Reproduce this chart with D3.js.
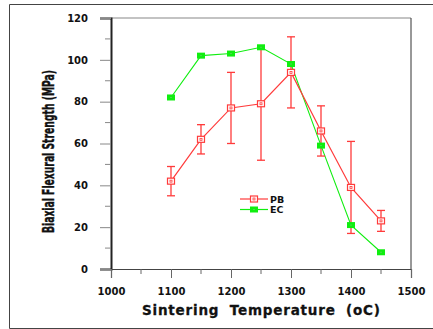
<!DOCTYPE html>
<html>
<head>
<meta charset="utf-8">
<script src="https://cdn.jsdelivr.net/npm/d3@7"></script>
<style>
  body { margin: 0; background: #fff; }
  svg { display: block; }
</style>
</head>
<body>
<div id="chart"></div>
<script>
// temperatures (oC)
const temps = [1100, 1150, 1200, 1250, 1300, 1350, 1400, 1450];
// PB series with error bars
const pbMean = [42, 62, 77, 79, 94, 66, 39, 23];
const pbLow  = [35, 55, 60, 52, 77, 54, 17, 18];
const pbHigh = [49, 69, 94, 106, 111, 78, 61, 28];
// EC series
const ecMean = [82, 102, 103, 106, 98, 59, 21, 8];

const xTicks = [1000, 1100, 1200, 1300, 1400, 1500];
const yTicks = [0, 20, 40, 60, 80, 100, 120];

const width = 433, height = 329;
const margin = { top: 18, right: 22, bottom: 60, left: 111 };

const svg = d3.select('#chart').append('svg')
  .attr('width', width)
  .attr('height', height);

// outer frame
svg.append('path')
  .attr('d', `M${width},4.5 H9.5 V328.5 H${width}`)
  .attr('fill', 'none')
  .attr('stroke', '#444')
  .attr('stroke-width', 1);

const x = d3.scaleLinear().domain([1000, 1500]).range([margin.left, width - margin.right]);
const y = d3.scaleLinear().domain([0, 120]).range([height - margin.bottom, margin.top]);

const fontWide = '"DejaVu Sans", Verdana, sans-serif';
const fontTitle = '"DejaVu Sans Condensed", "Liberation Sans Narrow", Arial, sans-serif';

// plot box: top gray, right dark
svg.append('line')
  .attr('x1', x(1000)).attr('x2', x(1500))
  .attr('y1', y(120)).attr('y2', y(120))
  .attr('stroke', '#888').attr('stroke-width', 1.2);
svg.append('line')
  .attr('x1', x(1500)).attr('x2', x(1500))
  .attr('y1', y(120)).attr('y2', y(0))
  .attr('stroke', '#333').attr('stroke-width', 1);

// y axis
const yAxis = svg.append('g')
  .attr('transform', `translate(${x(1000)},0)`)
  .call(d3.axisLeft(y).tickValues(yTicks).tickSize(11).tickPadding(12).tickFormat(d3.format('d')));
yAxis.select('.domain').attr('stroke', '#222').attr('stroke-width', 2);
yAxis.selectAll('.tick line').attr('stroke', '#888');
yAxis.selectAll('.tick text')
  .attr('font-family', fontWide).attr('font-weight', 'bold').attr('font-size', 10).attr('fill', '#111');
// y minor ticks
svg.append('g').selectAll('line')
  .data(d3.range(10, 120, 20))
  .join('line')
  .attr('x1', x(1000) - 6).attr('x2', x(1000))
  .attr('y1', d => y(d)).attr('y2', d => y(d))
  .attr('stroke', '#888');

// x axis
const xAxis = svg.append('g')
  .attr('transform', `translate(0,${y(0)})`)
  .call(d3.axisBottom(x).tickValues(xTicks).tickSize(9).tickPadding(10).tickFormat(d3.format('d')));
xAxis.select('.domain').attr('stroke', '#444').attr('stroke-width', 1.2);
xAxis.selectAll('.tick line').attr('stroke', '#666');
xAxis.selectAll('.tick text')
  .attr('font-family', fontWide).attr('font-weight', 'bold').attr('font-size', 10).attr('fill', '#111');
// x minor ticks
svg.append('g').selectAll('line')
  .data(d3.range(1050, 1500, 100))
  .join('line')
  .attr('x1', d => x(d)).attr('x2', d => x(d))
  .attr('y1', y(0)).attr('y2', y(0) + 5)
  .attr('stroke', '#666');

// axis titles
svg.append('text')
  .attr('x', 142).attr('y', 314.5)
  .attr('font-family', fontWide).attr('font-weight', 'bold').attr('font-size', 13.5)
  .attr('word-spacing', 5)
  .attr('textLength', 238).attr('lengthAdjust', 'spacing')
  .attr('fill', '#111').attr('stroke', '#111').attr('stroke-width', 0.3)
  .text('Sintering Temperature (oC)');

svg.append('text')
  .attr('transform', 'translate(54,151.5) rotate(-90)')
  .attr('text-anchor', 'middle')
  .attr('font-family', fontTitle)
  .attr('font-weight', 'bold').attr('font-size', 15)
  .attr('textLength', 163).attr('lengthAdjust', 'spacingAndGlyphs')
  .attr('fill', '#111').attr('stroke', '#111').attr('stroke-width', 0.4)
  .text('Biaxial Flexural Strength (MPa)');

const red = '#ff3b3b';
const green = '#10ee10';

const pb = temps.map((t, i) => ({ t, v: pbMean[i], lo: pbLow[i], hi: pbHigh[i] }));
const ec = temps.map((t, i) => ({ t, v: ecMean[i] }));

const line = d3.line().x(d => x(d.t)).y(d => y(d.v));

// EC line
svg.append('path').datum(ec)
  .attr('d', line).attr('fill', 'none')
  .attr('stroke', green).attr('stroke-width', 1.1);

// PB error bars
const eb = svg.append('g').attr('stroke', red).attr('stroke-width', 1.3);
eb.selectAll('.v').data(pb).join('line')
  .attr('x1', d => x(d.t)).attr('x2', d => x(d.t))
  .attr('y1', d => y(d.lo)).attr('y2', d => y(d.hi));
eb.selectAll('.lo').data(pb).join('line')
  .attr('x1', d => x(d.t) - 4).attr('x2', d => x(d.t) + 4)
  .attr('y1', d => y(d.lo)).attr('y2', d => y(d.lo));
eb.selectAll('.hi').data(pb).join('line')
  .attr('x1', d => x(d.t) - 4).attr('x2', d => x(d.t) + 4)
  .attr('y1', d => y(d.hi)).attr('y2', d => y(d.hi));

// PB line
svg.append('path').datum(pb)
  .attr('d', line).attr('fill', 'none')
  .attr('stroke', red).attr('stroke-width', 1.2);

function pbMarker(g, cx, cy) {
  g.append('rect')
    .attr('x', cx - 3.5).attr('y', cy - 3).attr('width', 7).attr('height', 6)
    .attr('fill', '#fff').attr('stroke', red).attr('stroke-width', 1.2);
  g.append('rect')
    .attr('x', cx - 1).attr('y', cy - 1).attr('width', 2).attr('height', 2)
    .attr('fill', 'none').attr('stroke', red).attr('stroke-width', 0.8);
}
function ecMarker(g, cx, cy) {
  g.append('rect')
    .attr('x', cx - 4).attr('y', cy - 3).attr('width', 8).attr('height', 6)
    .attr('fill', green);
  g.append('rect')
    .attr('x', cx - 0.75).attr('y', cy - 0.5).attr('width', 1.5).attr('height', 1)
    .attr('fill', '#6c6');
}

const pbG = svg.append('g');
pb.forEach(d => pbMarker(pbG, x(d.t), y(d.v)));
const ecG = svg.append('g');
ec.forEach(d => ecMarker(ecG, x(d.t), y(d.v)));

// legend
const legend = svg.append('g');
const legendItems = [
  { name: 'PB', color: red, marker: pbMarker, yy: 199 },
  { name: 'EC', color: green, marker: ecMarker, yy: 209.5 }
];
legendItems.forEach(it => {
  legend.append('line')
    .attr('x1', 240).attr('x2', 268)
    .attr('y1', it.yy).attr('y2', it.yy)
    .attr('stroke', it.color).attr('stroke-width', 1.2);
  it.marker(legend, 254, it.yy);
  legend.append('text')
    .attr('x', 270).attr('y', it.yy + 3.5)
    .attr('font-family', fontWide).attr('font-weight', 'bold').attr('font-size', 9.5)
    .attr('fill', '#111')
    .text(it.name);
});
</script>
</body>
</html>
